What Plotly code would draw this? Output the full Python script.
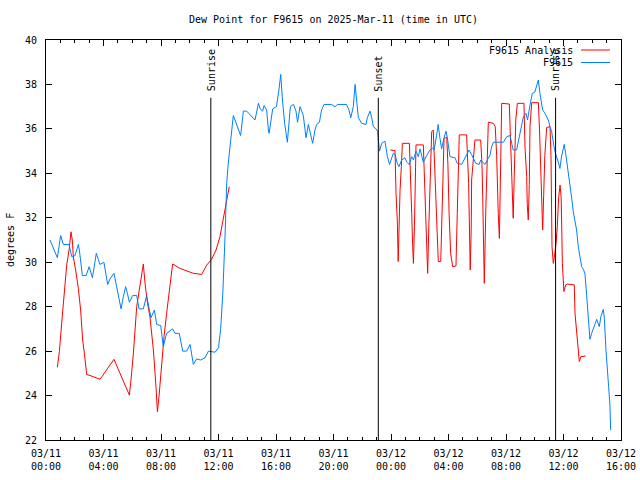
import pandas as pd
import plotly.graph_objects as go

# ---- data (hours after 2025-03-11 00:00 UTC, degrees F) ----
base_time = "2025-03-11 00:00"

obs_hours = [0.28, 0.79, 1.02, 1.2, 1.6, 1.79, 2.02, 2.25, 2.32, 2.53, 2.79, 3.0, 3.23, 3.5, 3.75, 4.03,
             4.29, 4.45, 4.73, 5.03, 5.22, 5.38, 5.54, 5.66, 5.8, 6.03, 6.31, 6.47, 6.77, 7.0, 7.12, 7.3,
             7.54, 7.7, 7.98, 8.16, 8.39, 8.81, 8.97, 9.27, 9.51, 9.78, 10.02, 10.25, 10.48, 10.76, 11.06,
             11.3, 11.76, 12.0, 12.15, 12.3, 12.45, 12.57, 12.68, 12.8, 12.9, 13.03, 13.15, 13.38, 13.54,
             13.73, 13.96, 14.54, 14.78, 14.9, 15.07, 15.17, 15.35, 15.47, 15.52, 15.77, 16.03, 16.2, 16.33,
             16.45, 16.6, 16.79, 17.0, 17.22, 17.39, 17.5, 17.67, 17.9, 18.09, 18.25, 18.37, 18.55, 18.71,
             18.83, 19.02, 19.17, 19.34, 19.87, 20.1, 20.29, 20.9, 21.08, 21.2, 21.38, 21.5, 21.6, 21.73,
             21.96, 22.26, 22.35, 22.54, 22.66, 22.77, 22.96, 23.07, 23.12, 23.2, 23.35, 23.58, 23.75, 23.9,
             24.16, 24.28, 24.44, 24.55, 24.74, 24.97, 25.1, 25.27, 25.44, 25.56, 25.74, 25.9, 26.02, 26.25,
             26.48, 26.71, 26.9, 27.0, 27.17, 27.28, 27.4, 27.52, 27.69, 27.83, 27.92, 28.1, 28.45, 28.61,
             28.92, 29.15, 29.38, 29.43, 29.6, 29.9, 30.13, 30.24, 30.38, 30.54, 30.7, 30.89, 31.0, 31.12,
             31.82, 32.05, 32.28, 32.5, 32.74, 32.97, 33.21, 33.39, 33.5, 33.67, 33.83, 34.0, 34.13, 34.25,
             34.36, 34.55, 34.71, 34.94, 35.06, 35.17, 35.34, 35.45, 35.64, 35.75, 35.87, 35.96, 36.05,
             36.15, 36.34, 36.45, 36.57, 36.68, 36.8, 36.91, 37.03, 37.15, 37.26, 37.38, 37.49, 37.61,
             37.73, 37.84, 37.96, 38.12, 38.31, 38.49, 38.6, 38.77, 38.84, 38.96, 39.07, 39.14, 39.23, 39.28]
obs_values = [31.0, 30.2, 31.2, 30.8, 30.8, 30.25, 30.3, 30.8, 30.55, 29.4, 29.4, 29.8, 29.3, 30.4, 29.9, 30.0,
              29.0, 29.25, 29.5, 28.45, 27.9, 28.45, 28.9, 28.6, 28.2, 28.5, 28.5, 27.9, 27.9, 28.5, 28.1, 27.5,
              27.85, 27.2, 27.15, 26.2, 26.8, 27.0, 26.8, 26.8, 26.0, 26.0, 26.3, 25.4, 25.65, 25.6, 25.7,
              26.0, 25.95, 26.15, 27.0, 28.6, 31.1, 33.55, 34.45, 35.2, 35.95, 36.6, 36.4, 36.0, 35.7,
              36.8, 36.8, 36.4, 37.15, 36.9, 36.8, 37.05, 36.85, 35.95, 35.8, 36.9, 37.0, 37.75, 38.45,
              37.3, 36.25, 35.4, 37.0, 37.1, 36.8, 36.3, 37.0, 36.6, 35.6, 36.2, 35.8, 35.35, 35.95,
              36.2, 36.3, 36.85, 37.1, 37.1, 37.0, 37.1, 37.1, 36.85, 36.5, 37.0, 38.0, 37.45, 36.5,
              36.25, 36.2, 36.5, 36.8, 36.5, 36.1, 36.0, 35.9, 35.5, 35.0, 35.35, 35.45, 34.75, 34.4,
              34.9, 34.85, 34.45, 34.3, 34.6, 34.7, 34.5, 34.4, 34.75, 34.6, 35.0, 34.75, 35.1, 34.5,
              34.8, 35.05, 35.15, 35.05, 35.7, 36.2, 35.6, 35.1, 35.6, 35.9, 35.6, 34.75, 34.7, 34.45,
              34.4, 34.7, 35.0, 35.05, 34.85, 34.45, 34.4, 34.6, 34.5, 34.4, 34.6, 34.82, 35.2, 35.4,
              35.4, 35.65, 35.7, 35.05, 35.05, 35.8, 36.55, 36.7, 36.4, 37.07, 37.6, 37.65, 37.97, 38.2,
              37.6, 36.85, 36.7, 36.4, 36.1, 35.9, 35.2, 34.87, 34.5, 34.22, 34.78, 35.1, 35.3,
              34.9, 34.07, 33.4, 32.88, 32.27, 31.75, 31.45, 30.7, 30.1, 29.8, 29.68, 29.5, 28.52,
              27.55, 26.53, 26.8, 27.1, 27.43, 27.1, 27.55, 27.88, 27.48, 25.98, 25.23, 24.4, 23.58, 22.45]

ana_hours = [0.79, 0.93, 1.09, 1.25, 1.44, 1.62, 1.74, 1.83, 1.9, 2.06, 2.25, 2.41, 2.55, 2.67, 2.83, 3.29,
             3.76, 4.73, 5.15, 5.5, 5.8, 5.91, 6.08, 6.31, 6.49, 6.66, 6.77, 6.89, 7.05, 7.23, 7.47, 7.65,
             7.75, 7.86, 8.05, 8.21, 8.39, 8.63, 8.81, 9.32, 10.25, 10.83, 11.18, 11.52, 11.83, 12.1, 12.34,
             12.52, 12.68, 12.75, 18.0,
             23.96, 24.28, 24.35, 24.44, 24.5, 24.56, 24.63, 24.72, 24.79, 25.28, 25.4, 25.44, 25.51, 25.56,
             25.63, 25.67, 25.74, 26.25, 26.33, 26.48, 26.55, 26.64, 26.71, 26.83, 26.94, 27.06, 27.18,
             27.29, 27.46, 27.53, 27.6, 27.69, 27.88, 27.96, 28.04, 28.15, 28.29, 28.52, 28.61, 28.68,
             28.75, 29.26, 29.3, 29.4, 29.51, 29.58, 29.61, 29.77, 29.84, 30.24, 30.33, 30.38, 30.49,
             30.6, 30.7, 30.77, 31.12, 31.25, 31.35, 31.4, 31.46, 31.54, 31.6, 31.7, 32.23, 32.27, 32.39,
             32.5, 32.57, 32.68, 32.79, 33.25, 33.32, 33.44, 33.48, 33.55, 33.62, 33.67, 33.79, 34.25,
             34.33, 34.41, 34.48, 34.55, 34.62, 34.7, 34.83, 35.06, 35.13, 35.2, 35.29, 35.36, 35.48,
             35.57, 35.66, 35.76, 35.84, 35.92, 36.03, 36.15, 36.27, 36.75, 36.8, 36.91, 37.03, 37.1,
             37.21, 37.54]
ana_values = [25.27, 25.97, 27.25, 28.6, 29.87, 30.62, 31.37, 31.0, 30.25, 29.65, 28.82, 27.85, 26.5, 25.9, 24.95, 24.85,
              24.73, 25.63, 25.0, 24.43, 24.02, 24.7, 25.9, 28.0, 28.75, 29.5, 29.92, 29.05, 28.2, 27.55, 26.05, 24.4,
              23.27, 23.95, 25.52, 26.65, 27.7, 28.9, 29.92, 29.72, 29.5, 29.45, 29.87, 30.13, 30.55, 31.15, 32.05,
              32.64, 33.24, 33.4, None,
              35.05, 35.02, 33.1, 31.85, 30.03, 31.8, 33.25, 34.3, 35.35, 35.35, 33.5, 32.2, 30.7, 29.95,
              31.6, 33.7, 35.28, 35.28, 33.6, 30.4, 29.5, 31.8, 33.7, 35.87, 35.95, 33.7, 32.2,
              30.03, 30.03, 32.2, 34.1, 35.58, 35.62, 34.4, 32.2, 30.4, 29.8, 29.83, 32.2, 34.3,
              35.73, 35.73, 35.05, 33.55, 29.65, 31.5, 33.7, 35.05, 35.5, 35.5, 34.4, 32.95, 29.05,
              32.5, 35.0, 36.3, 36.25, 36.1, 34.8, 33.25, 32.2, 31.07, 33.5, 37.15, 37.12, 36.4, 34.7,
              31.98, 33.8, 36.4, 37.15, 37.15, 35.2, 33.85, 32.58, 31.9, 33.5, 36.1, 37.18, 37.18,
              36.0, 33.85, 32.2, 31.45, 33.0, 34.8, 36.07, 36.1, 34.8, 30.7, 29.95, 30.2, 30.85,
              31.6, 32.9, 33.47, 32.9, 29.95, 28.68, 28.98, 29.02, 28.98, 27.7, 26.8, 25.98, 25.53,
              25.75, 25.78]

event_names = ["Sunrise", "Sunset", "Sunrise"]
event_times = ["2025-03-11 11:28", "2025-03-11 23:07", "2025-03-12 11:27"]
event_top = 37.4

series_names = ["F9615 Analysis", "F9615"]
series_colors = ["#ff0000", "#0080ff"]

title_text = "Dew Point for F9615 on 2025-Mar-11 (time in UTC)"
y_title = "degrees F"
x_start = "2025-03-11 00:00"
x_end = "2025-03-12 16:00"
y_min, y_max = 22, 40

# ---- build ----
t0 = pd.Timestamp(base_time)
obs_t = [t0 + pd.Timedelta(hours=h) for h in obs_hours]
ana_t = [t0 + pd.Timedelta(hours=h) for h in ana_hours]

FONT = "DejaVu Sans Mono"
fig = go.Figure()
fig.add_trace(go.Scatter(x=ana_t, y=ana_values, mode="lines", name=series_names[0],
                         line=dict(color=series_colors[0], width=1), connectgaps=False))
fig.add_trace(go.Scatter(x=obs_t, y=obs_values, mode="lines", name=series_names[1],
                         line=dict(color=series_colors[1], width=1)))

for name, t in zip(event_names, event_times):
    fig.add_shape(type="line", xref="x", yref="y", x0=t, x1=t, y0=y_min, y1=event_top,
                  line=dict(color="black", width=1))
    fig.add_annotation(x=t, y=event_top + 0.2, xref="x", yref="y", text=name, textangle=-90,
                       showarrow=False, xanchor="center", yanchor="bottom",
                       font=dict(family=FONT, size=10, color="black"))

# manual legend (gnuplot style: text right, sample to its right)
L, R, T, B = 46, 621, 40, 440
def px(xp):
    return (xp - L) / (R - L)
def py(yp):
    return (B - yp) / (B - T)
for i, (nm, col) in enumerate(zip(series_names, series_colors)):
    yy = 50 + i * 12.5
    fig.add_annotation(xref="paper", yref="paper", x=px(575), y=py(yy), text=nm, showarrow=False,
                       xanchor="right", yanchor="middle", font=dict(family=FONT, size=10, color="black"))
    fig.add_shape(type="line", xref="paper", yref="paper", x0=px(581), x1=px(610), y0=py(yy), y1=py(yy),
                  line=dict(color=col, width=1))

fig.add_annotation(xref="paper", yref="paper", x=px(10), y=0.5, text=y_title, textangle=-90,
                   showarrow=False, xanchor="center", yanchor="middle",
                   font=dict(family=FONT, size=10, color="black"))
fig.add_annotation(xref="paper", yref="paper", x=0.5, y=py(19), text=title_text, showarrow=False,
                   xanchor="center", yanchor="middle", font=dict(family=FONT, size=10, color="black"))

fig.update_layout(
    width=640, height=480,
    margin=dict(l=L, r=640 - R, t=T, b=480 - B, autoexpand=False),
    paper_bgcolor="white", plot_bgcolor="white",
    showlegend=False,
    font=dict(family=FONT, size=10, color="black"),
    xaxis=dict(type="date", range=[x_start, x_end], tick0=x_start, dtick=4 * 3600000,
               tickformat="%m/%d<br>%H:%M", ticks="inside", ticklen=6, tickcolor="black",
               showline=True, linecolor="black", linewidth=1, mirror="ticks", showgrid=False,
               zeroline=False, ticklabelstandoff=4, automargin=False,
               minor=dict(dtick=3600000, ticks="inside", ticklen=3, tickcolor="black", showgrid=False)),
    yaxis=dict(range=[y_min, y_max], dtick=2, tick0=y_min, ticks="inside", ticklen=6, tickcolor="black",
               showline=True, linecolor="black", linewidth=1, mirror="ticks", showgrid=False,
               zeroline=False, ticklabelstandoff=6, automargin=False),
)

fig.write_html("out.html", config={"displayModeBar": False},
               post_script="document.body.style.margin='0px';document.body.style.overflow='hidden';")
